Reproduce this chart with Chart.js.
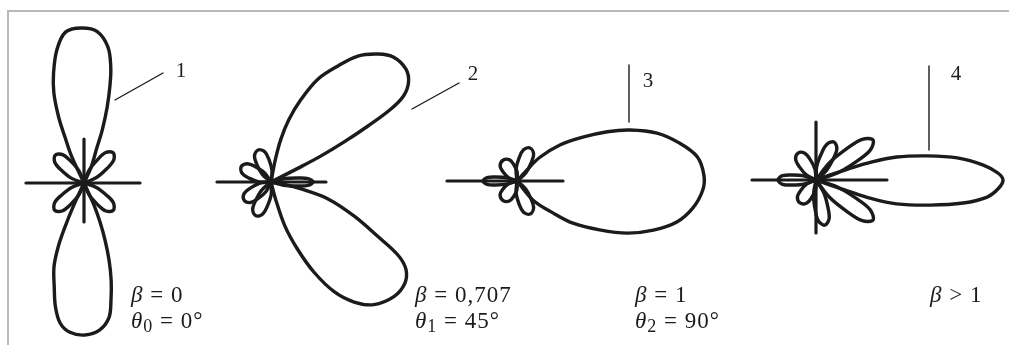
<!DOCTYPE html>
<html>
<head>
<meta charset="utf-8">
<script src="https://cdn.jsdelivr.net/npm/chart.js@4.4.1/dist/chart.umd.min.js"></script>
<style>
  html, body { margin: 0; padding: 0; background: #fff; }
  #wrap { position: relative; width: 1009px; height: 345px; }
  #frame { position: absolute; left: 7px; top: 10px; right: 0; bottom: 0;
           border-top: 2px solid #b9b9b9; border-left: 2px solid #b9b9b9; pointer-events: none; }
</style>
</head>
<body>
<div id="wrap">
  <canvas id="chart" width="1009" height="345"></canvas>
  <div id="frame"></div>
</div>
<script>
// Radiation patterns, one array of lobes per curve.
// Each lobe: [angle in degrees (ccw from the axis), radius], r = 0 is the pole.
const pattern1 = [
  [[62,0],[66,18],[70,38],[71,56],[73,79],[75,100],[77,119],[80,138],[85,152],[91,155],[97,152],[101.5,136],[105.5,114],[108.5,95],[111,71],[112.5,50],[115,29],[116,0]],
  [[243,0],[245.4,26],[246.6,48],[248,69],[250.3,89],[254,108],[257,127],[260.3,142],[264.6,150],[270.4,152],[276,148],[280.5,137],[283,120],[285.6,101],[288,81],[290.2,61],[292.3,42],[294.4,24],[296,0]],
  [[18,0],[23.6,13.6],[32,26.8],[37.5,37.4],[46,42],[54.5,37.4],[60,26.8],[68.4,13.6],[74,0]],
  [[107,0],[112.6,13.1],[121.3,25.6],[127.1,35.6],[136,40],[144.9,35.6],[150.7,25.6],[159.4,13.1],[165,0]],
  [[194,0],[199.6,13.1],[208.3,25.6],[214.1,35.6],[223,40],[231.9,35.6],[237.7,25.6],[246.4,13.1],[252,0]],
  [[288,0],[293.6,13.1],[302.3,25.6],[308.1,35.6],[317,40],[325.9,35.6],[331.7,25.6],[340.4,13.1],[346,0]]
];
const pattern2 = [
  [[24,0],[27,30],[27.5,56],[28.7,83],[30,112],[31.3,140],[33,158],[36,170],[40,176],[45.5,175],[50,167],[55.4,153],[60,134],[65.5,113],[70,88],[74,65],[77,44],[79,23],[82,0]],
  [[280,0],[285,18],[287.5,46],[291.5,72],[295.5,100],[300,127],[304.7,146],[310,160],[317,168],[322.7,168],[327,161],[330,147],[333,120],[337.7,90],[343.4,60],[347,31],[350,12],[352,0]],
  [[80,0],[85.3,11.6],[95.1,22.4],[101.7,30.9],[112,34.5],[122.3,30.9],[128.9,22.4],[138.7,11.6],[144,0]],
  [[120,0],[125.6,11.3],[135.6,21.8],[142.4,30],[153,33.5],[163.6,30],[170.4,21.8],[180.4,11.3],[186,0]],
  [[181,0],[185.9,11],[196.1,21.2],[203.1,29.1],[214,32.5],[224.9,29.1],[231.9,21.2],[242.1,11],[247,0]],
  [[216,0],[220.9,12.3],[230.2,23.8],[236.4,33.1],[246,37],[255.6,33.1],[261.8,23.8],[271.1,12.3],[276,0]],
  [[-19,0],[-14.3,13],[-8.7,26.3],[-5.3,37.2],[0,42],[5.3,37.2],[8.7,26.3],[14.3,13],[19,0]]
];
const pattern3 = [
  [[-56,0],[-50,25],[-41.6,48],[-37,70],[-30.6,96],[-25.3,122],[-19.8,145],[-14.4,165],[-8.7,178],[-2.8,186],[1.8,187],[7.6,182],[13.1,167],[18.9,148],[24.3,124],[28.6,103],[33.7,79],[40,56],[46,33],[48,15],[52,0]],
  [[38,0],[42.5,11.9],[52,22.9],[58.5,31.7],[68.5,35.5],[78.5,31.7],[85,22.9],[94.5,11.9],[99,0]],
  [[84,0],[89.3,9.1],[101.2,16.8],[110,22.7],[124,25],[138,22.7],[146.8,16.8],[158.7,9.1],[164,0]],
  [[158,0],[162.6,10.7],[169.3,21.5],[173.5,30.1],[180,34],[186.5,30.1],[190.7,21.5],[197.4,10.7],[202,0]],
  [[193,0],[197.8,8.9],[210,16.3],[219,21.8],[233.6,24],[248.2,21.8],[257.2,16.3],[269.4,8.9],[274,0]],
  [[261,0],[265.5,11.9],[275,22.9],[281.5,31.7],[291.5,35.5],[301.5,31.7],[308,22.9],[317.5,11.9],[322,0]]
];
const pattern4 = [
  [[-22,0],[-20,15],[-19,33],[-18.5,58],[-16.5,84],[-12.4,117],[-8.9,149],[-5.7,172],[-2.5,183],[0,187],[2.2,182],[5.1,168],[8.9,143],[12.2,114],[15.9,84],[18,58],[19,33],[20,15],[22,0]],
  [[14,0],[18,21.9],[24.5,43.9],[28.7,61.6],[35,69.6],[41.3,61.6],[45.5,43.9],[52,21.9],[56,0]],
  [[37,0],[42.2,13.6],[50.6,26.8],[56.1,37.4],[64.6,42],[73.1,37.4],[78.6,26.8],[87,13.6],[92,0]],
  [[90,0],[95.6,11],[105.8,21.1],[112.8,29],[123.7,32.4],[134.6,29],[141.6,21.1],[151.8,11],[157,0]],
  [[156,0],[160.7,12.1],[168,24.1],[172.7,33.7],[180,38],[187.3,33.7],[192,24.1],[199.3,12.1],[204,0]],
  [[198,0],[203.2,9.9],[214.5,18.6],[222.4,25.2],[235,28],[247.6,25.2],[255.5,18.6],[266.8,9.9],[272,0]],
  [[255,0],[260.4,14.7],[268.2,29.2],[273.3,40.9],[281,46],[288.7,40.9],[293.8,29.2],[301.6,14.7],[306,0]],
  [[304,0],[308,21.9],[314.5,43.9],[318.7,61.6],[325,69.6],[331.3,61.6],[335.5,43.9],[342,21.9],[346,0]]
];

// axis cross of each diagram: horizontal [from, to], vertical [from, to] (null = none)
const crossH = [[-58, 56], [-54, 55], [-70, 46], [-64, 71]];
const crossV = [[-39, 44], null, null, [-53, 58]];

// curve numbers and captions
const curveNumbers = ['1', '2', '3', '4'];
const betaText = ['0', '0,707', '1', '1'];
const betaRel = ['=', '=', '=', '>'];
const thetaSub = ['0', '1', '2', null];
const thetaText = ['0°', '45°', '90°', null];

// ---- layout (chart units = canvas px, y up) ----
const patterns = [pattern1, pattern2, pattern3, pattern4];
const centers = [[84, 162], [271, 163], [517, 164], [816, 165]];
const leaders = [[[115, 245], [163, 272]], [[412, 236], [459, 262]], [[629, 280], [629, 223]], [[929, 279], [929, 195]]];
const numberAt = [[181, 268], [473, 265], [648, 258], [956, 265]];
const captionAt = [[131, 43, 17], [415, 43, 17], [635, 43, 17], [930, 43, 17]];

const INK = '#1b1b1b';
const FONT = '"Liberation Serif", "Times New Roman", serif';

const line = (data, width, tension) => ({
  data, showLine: true, fill: false, tension,
  borderColor: INK, borderWidth: width, pointRadius: 0,
  borderJoinStyle: 'round', borderCapStyle: 'round'
});

const datasets = [];
patterns.forEach((lobes, i) => {
  const [cx, cy] = centers[i];
  lobes.forEach(lobe => {
    const pts = lobe.map(([a, r]) => ({
      x: cx + r * Math.cos(a * Math.PI / 180),
      y: cy + r * Math.sin(a * Math.PI / 180)
    }));
    datasets.push(line(pts, 3.4, 0.35));
  });
  const h = crossH[i];
  datasets.push(line([{ x: cx + h[0], y: cy }, { x: cx + h[1], y: cy }], 3.2, 0));
  const v = crossV[i];
  if (v) datasets.push(line([{ x: cx, y: cy + v[0] }, { x: cx, y: cy + v[1] }], 3.2, 0));
});
leaders.forEach(([a, b]) => datasets.push(line([{ x: a[0], y: a[1] }, { x: b[0], y: b[1] }], 1.4, 0)));

// draws a row of text runs: [text, italic, subscript]
function drawRuns(ctx, x, y, runs, size) {
  runs.forEach(([t, italic, sub]) => {
    const s = sub ? Math.round(size * 0.78) : size;
    ctx.font = `${italic ? 'italic ' : ''}${s}px ${FONT}`;
    ctx.fillText(t, x, sub ? y + size * 0.17 : y);
    x += ctx.measureText(t).width;
  });
}

const textPlugin = {
  id: 'figureText',
  afterDatasetsDraw(chart) {
    const { ctx, scales: { x, y } } = chart;
    ctx.save();
    ctx.fillStyle = INK;
    ctx.textBaseline = 'alphabetic';
    ctx.textAlign = 'center';
    ctx.font = `21px ${FONT}`;
    curveNumbers.forEach((n, i) => {
      ctx.fillText(n, x.getPixelForValue(numberAt[i][0]), y.getPixelForValue(numberAt[i][1]));
    });
    ctx.textAlign = 'left';
    ctx.letterSpacing = '1px';
    captionAt.forEach(([cx, by, ty], i) => {
      const px = x.getPixelForValue(cx);
      drawRuns(ctx, px, y.getPixelForValue(by),
        [['β', true], [` ${betaRel[i]} ${betaText[i]}`, false]], 23);
      if (thetaSub[i] !== null) {
        drawRuns(ctx, px, y.getPixelForValue(ty),
          [['θ', true], [thetaSub[i], false, true], [` = ${thetaText[i]}`, false]], 23);
      }
    });
    ctx.restore();
  }
};

new Chart(document.getElementById('chart'), {
  type: 'scatter',
  data: { datasets },
  options: {
    responsive: false,
    animation: false,
    devicePixelRatio: 1,
    layout: { padding: 0 },
    plugins: { legend: { display: false }, tooltip: { enabled: false } },
    scales: {
      x: { type: 'linear', min: 0, max: 1009, display: false },
      y: { type: 'linear', min: 0, max: 345, display: false }
    }
  },
  plugins: [textPlugin]
});
</script>
</body>
</html>
